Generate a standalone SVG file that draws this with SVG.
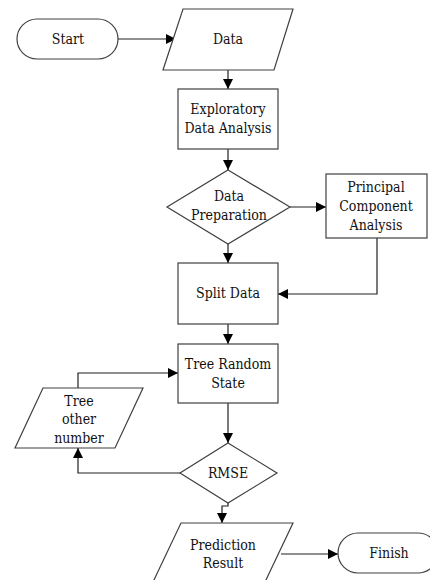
<svg xmlns="http://www.w3.org/2000/svg" width="430" height="580" viewBox="0 0 430 580">
<style>
.shape{fill:#ffffff;stroke:#404040;stroke-width:1.2}
.conn{fill:none;stroke:#202020;stroke-width:1.2}
text{font-size:14px;fill:#111111;text-anchor:middle;font-stretch:condensed}
</style>
<defs>
<marker id="arr" viewBox="0 0 10 10" refX="10" refY="5" markerWidth="10" markerHeight="10" markerUnits="userSpaceOnUse" orient="auto">
<path d="M0,0 L10,5 L0,10 Z" fill="#000000"/>
</marker>
</defs>
<rect width="430" height="580" fill="#ffffff"/>
<g id="connectors">
<path class="conn" d="M118,39 H176" marker-end="url(#arr)"/>
<path class="conn" d="M228,70 V89" marker-end="url(#arr)"/>
<path class="conn" d="M228,149 V170" marker-end="url(#arr)"/>
<path class="conn" d="M290,207 H326" marker-end="url(#arr)"/>
<path class="conn" d="M228,244 V263" marker-end="url(#arr)"/>
<path class="conn" d="M377,238 V294 H278" marker-end="url(#arr)"/>
<path class="conn" d="M228,324 V344" marker-end="url(#arr)"/>
<path class="conn" d="M228,403 V443" marker-end="url(#arr)"/>
<path class="conn" d="M78,388 V373 H178" marker-end="url(#arr)"/>
<path class="conn" d="M180,473 H78 V448" marker-end="url(#arr)"/>
<path class="conn" d="M228,503 V506 H222 V523" marker-end="url(#arr)"/>
<path class="conn" d="M281,554 H338" marker-end="url(#arr)"/>
</g>
<g font-family="'DejaVu Serif Condensed', 'DejaVu Serif', serif">
<g id="start">
<rect class="shape" x="17" y="19" width="101" height="40" rx="20" ry="20"/>
<text x="68" y="44">Start</text>
</g>
<g id="data">
<polygon class="shape" points="183,9 293,9 274,70 163,70"/>
<text x="228" y="44">Data</text>
</g>
<g id="eda">
<rect class="shape" x="178" y="89" width="100" height="60"/>
<text x="228" y="114">Exploratory</text>
<text x="228" y="133">Data Analysis</text>
</g>
<g id="prep">
<polygon class="shape" points="228,170 290,207 228,244 167,207"/>
<text x="229" y="201">Data</text>
<text x="229" y="220">Preparation</text>
</g>
<g id="pca">
<rect class="shape" x="326" y="174" width="101" height="64"/>
<text x="376" y="192">Principal</text>
<text x="376" y="211">Component</text>
<text x="376" y="230">Analysis</text>
</g>
<g id="split">
<rect class="shape" x="178" y="263" width="100" height="61"/>
<text x="228" y="298">Split Data</text>
</g>
<g id="trs">
<rect class="shape" x="178" y="344" width="100" height="59"/>
<text x="228" y="369">Tree Random</text>
<text x="228" y="388">State</text>
</g>
<g id="other">
<polygon class="shape" points="43,388 143,388 115,448 15,448"/>
<text x="79" y="406">Tree</text>
<text x="79" y="424">other</text>
<text x="79" y="443">number</text>
</g>
<g id="rmse">
<polygon class="shape" points="228,443 277,473 228,503 180,473"/>
<text x="228" y="478">RMSE</text>
</g>
<g id="pred">
<polygon class="shape" points="181,523 293,523 265,582 153,582"/>
<text x="223" y="550">Prediction</text>
<text x="223" y="568">Result</text>
</g>
<g id="finish">
<rect class="shape" x="338" y="533" width="100" height="40" rx="20" ry="20"/>
<text x="389" y="558">Finish</text>
</g>
</g>
</svg>
